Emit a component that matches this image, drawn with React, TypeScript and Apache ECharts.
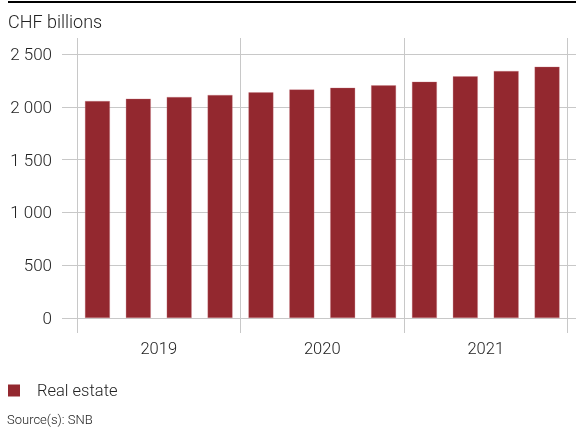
import React, { useEffect, useRef } from "react";
import * as echarts from "echarts";

const quarters = ["Q1 2019","Q2 2019","Q3 2019","Q4 2019","Q1 2020","Q2 2020","Q3 2020","Q4 2020","Q1 2021","Q2 2021","Q3 2021","Q4 2021"];
const years = ["2019", "2020", "2021"];
const realEstate = [2055, 2077, 2093, 2112, 2137, 2165, 2181, 2203, 2238, 2289, 2339, 2380];
const yTicks = [0, 500, 1000, 1500, 2000, 2500];

const FONT = "Roboto, 'Liberation Sans', sans-serif";
const TEXT = "#222222";
const GRID = "#c8c8c8";
const BAR = "#93282f";

export default function App() {
  const ref = useRef<HTMLDivElement>(null);
  useEffect(() => {
    if (!ref.current) return;
    const chart = echarts.init(ref.current, undefined, { renderer: "svg" });
    const fmt = (v: number) => {
      const s = String(v);
      return s.length > 3 ? s.slice(0, s.length - 3) + " " + s.slice(-3) : s;
    };
    chart.setOption({
      animation: false,
      textStyle: { fontFamily: FONT },
      title: [
        { text: "CHF billions", left: 3, top: 7, textStyle: { fontFamily: FONT, fontSize: 18, fontWeight: 300, color: TEXT } },
        { text: "Source(s): SNB", left: 2, top: 408, textStyle: { fontFamily: FONT, fontSize: 13, fontWeight: 300, color: TEXT } },
      ],
      legend: {
        left: 3, top: 377, icon: "rect", itemWidth: 12, itemHeight: 12,
        itemStyle: { borderWidth: 0 },
        textStyle: { fontFamily: FONT, fontSize: 16.5, fontWeight: 300, color: TEXT, padding: [0, 0, 0, 12] },
        data: ["Real estate"],
      },
      graphic: [
        { type: "line", shape: { x1: 8, y1: 2, x2: 576, y2: 2 }, style: { stroke: "#000", lineWidth: 2 } },
      ],
      grid: { left: 77, right: 8.5, top: 54, bottom: 110, containLabel: false },
      xAxis: [
        { type: "category", data: quarters, show: false, boundaryGap: true },
        {
          type: "category", data: years, position: "bottom", boundaryGap: true,
          axisLine: { show: false },
          axisTick: { show: true, length: 15, lineStyle: { color: GRID, width: 1 } },
          axisLabel: { margin: 22, fontFamily: FONT, fontSize: 16.5, fontWeight: 300, color: TEXT },
          splitLine: { show: true, lineStyle: { color: GRID, width: 1 } },
        },
        {
          type: "category", data: years, position: "top", boundaryGap: true,
          axisLine: { show: false },
          axisTick: { show: true, length: 16, lineStyle: { color: GRID, width: 1 } },
          axisLabel: { show: false },
          splitLine: { show: false },
        },
      ],
      yAxis: [
        {
          type: "value", min: 0, max: 2500, interval: 500,
          axisLine: { show: false },
          axisTick: { show: true, length: 15, lineStyle: { color: GRID, width: 1 } },
          axisLabel: { margin: 25, fontFamily: FONT, fontSize: 17, fontWeight: 300, color: TEXT, formatter: fmt },
          splitLine: { show: true, lineStyle: { color: GRID, width: 1 } },
        },
        {
          type: "value", min: 0, max: 2500, interval: 500, position: "right",
          axisLine: { show: false },
          axisTick: { show: true, length: 9, lineStyle: { color: GRID, width: 1 } },
          axisLabel: { show: false },
          splitLine: { show: false },
        },
      ],
      series: [
        {
          name: "Real estate", type: "bar", xAxisIndex: 0, yAxisIndex: 0,
          data: realEstate, barWidth: 25,
          itemStyle: { color: BAR, borderColor: "rgba(200,120,130,0.6)", borderWidth: 0.5 },
        },
      ],
    });
    return () => chart.dispose();
  }, []);
  return <div ref={ref} style={{ position: "fixed", left: 0, top: 0, width: 576, height: 428 }} />;
}
